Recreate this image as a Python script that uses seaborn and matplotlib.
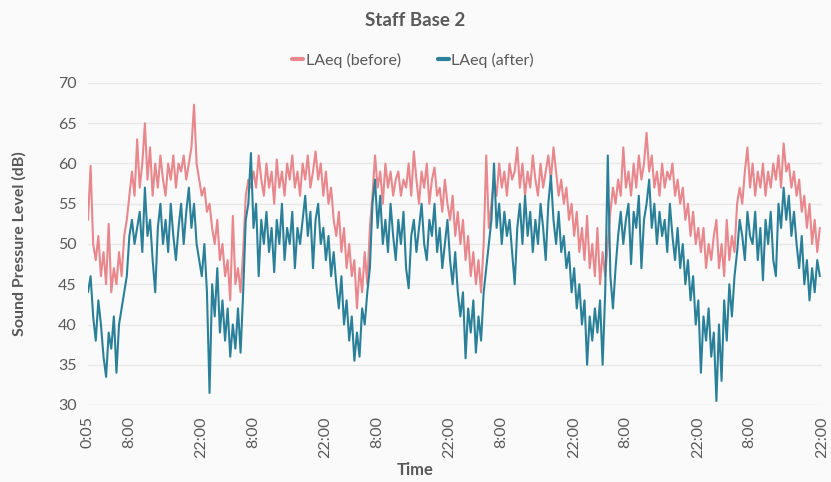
import matplotlib
matplotlib.use('Agg')
import matplotlib.pyplot as plt
import seaborn as sns
import pandas as pd

# LAeq readings every 30 minutes, starting 0:05 on day 1 (dB)
before = [
    53, 59.7, 50, 48, 51, 46, 49, 45, 52.5, 44, 47, 45, 49, 46, 51, 53,
    56, 59, 56, 63, 57, 60, 65, 58, 62, 56, 60, 57, 61, 58, 56, 60,
    58, 61, 57, 60, 59, 61, 58, 60, 62, 67.3, 60, 58, 56, 57, 54, 55,
    52, 50, 53, 48, 50, 46, 48, 43, 53.5, 45, 47, 44, 49, 56, 58, 57,
    59, 57, 61, 58, 56, 60, 57, 59, 55, 60.5, 57, 59, 56, 60, 58, 61,
    57, 59, 56, 60, 58, 61, 57, 59, 61.5, 58, 60, 56, 59, 55, 57, 53,
    51, 54, 49, 52, 47, 50, 46, 48, 42, 47, 44, 49, 45, 52, 56, 61,
    57, 59, 55, 60, 57, 59, 56, 58, 59, 56, 58, 57, 60, 56, 61.5, 58,
    55, 59, 57, 60, 55, 58, 59.5, 56, 57, 54, 58, 55, 53, 56, 51, 54,
    50, 53, 48, 51, 46, 49, 45, 48, 44, 50, 61, 52, 55, 58, 56, 60,
    57, 59, 56, 60, 58, 59, 62, 57, 60, 56, 59, 57, 61, 58, 56, 60,
    57, 59, 61, 58, 62, 59, 56, 58, 55, 57, 53, 55, 51, 54, 49, 52,
    48, 53.5, 47, 50, 46, 52, 45, 49, 46, 50, 54, 57, 55, 58, 56, 62,
    57, 59, 56, 60, 57, 61, 58, 60, 63.8, 59, 61, 57, 59, 56, 60, 57,
    59, 58, 60, 56, 58, 55, 57, 53, 55, 51, 54, 50, 52, 49, 52, 47,
    50, 48, 51, 53, 47, 50, 46, 53, 48, 51, 49, 55, 57, 55, 59, 62,
    57, 60, 56, 59, 57, 60, 56, 59, 57, 60, 58, 61, 57, 62.5, 59, 60,
    57, 59, 56, 58, 54, 56, 52, 55, 50, 53, 49, 52,
]
after = [
    44, 46, 41, 38, 43, 40, 36, 33.5, 39, 37, 41, 34, 40, 42, 44, 46,
    51, 53, 50, 52, 54, 49, 57, 51, 53, 48, 44, 52, 55, 50, 53, 49,
    55, 51, 48, 52, 55, 50, 54, 57, 52, 55, 50, 48, 46, 50, 44, 31.5,
    45, 41, 47, 39, 43, 38, 42, 36, 40, 37, 42, 36.5, 44, 53, 55, 61.3,
    52, 55, 46, 53, 50, 54, 49, 52, 46.5, 53, 50, 55, 48, 52, 50, 54,
    47, 52, 50, 53, 56, 51, 54, 47, 53, 55, 50, 52, 48, 51, 46, 49,
    45, 42, 46, 40, 43, 38, 41, 35.5, 39, 36, 42, 40, 44, 47, 55, 58,
    52, 56, 50, 53, 49, 55, 51, 48, 53, 50, 54, 47, 44.5, 51, 53, 49,
    52, 55, 50, 48, 53, 51, 55, 49, 52, 47, 50, 53, 48, 45, 49, 44,
    41, 44, 35.8, 42, 39, 43, 36.5, 41, 38, 44, 47, 50, 53, 60, 52, 55,
    50, 54, 51, 53, 49, 45, 52, 55, 50, 56, 51, 54, 49, 53, 50, 55,
    52, 48, 55, 58.5, 53, 50, 54, 49, 51, 47, 49, 44, 47, 42, 45, 40,
    43, 35, 41, 38, 42, 39, 43, 35, 44, 61, 46, 42, 47, 51, 54, 50,
    53, 55, 47.5, 54, 52, 56, 47, 53, 55, 58, 52, 55, 50, 54, 51, 53,
    49, 55, 51, 48, 52, 47, 50, 45, 48, 43, 46, 40, 43, 34, 41, 38,
    42, 36, 39, 30.5, 40, 33, 43, 38, 45, 41, 46, 49, 53, 51, 48, 54,
    51, 50, 54, 48, 52, 45.5, 53, 50, 54, 48, 46, 55, 52, 57, 53, 56,
    51, 54, 50, 47, 51, 45, 48, 43, 47, 44, 48, 46,
]
start_hour = 5 / 60
step_hours = 0.5
hours = [start_hour + step_hours * i for i in range(len(before))]

series_names = ['LAeq (before)', 'LAeq (after)']
tick_hours = [5 / 60, 8, 22, 32, 46, 56, 70, 80, 94, 104, 118, 128, 142]
tick_labels = ['0:05', '8:00', '22:00', '8:00', '22:00', '8:00', '22:00',
               '8:00', '22:00', '8:00', '22:00', '8:00', '22:00']
y_ticks = [30, 35, 40, 45, 50, 55, 60, 65, 70]

df = pd.DataFrame({
    'Time': hours + hours,
    'dB': before + after,
    'Series': [series_names[0]] * len(before) + [series_names[1]] * len(after),
})

sns.set_theme(style='whitegrid')
plt.rcParams['font.family'] = ['Lato', 'DejaVu Sans']

bg = '#FAFAFA'
txt = '#595959'
colors = ['#E8878C', '#2B8099']

fig = plt.figure(figsize=(8.31, 4.82), dpi=100, facecolor=bg)
ax = fig.add_axes([88 / 831, 1 - 405 / 482, (822 - 88) / 831, (405 - 83) / 482])
ax.set_facecolor(bg)

sns.lineplot(data=df, x='Time', y='dB', hue='Series', hue_order=series_names,
             palette=colors, estimator=None, linewidth=1.5, ax=ax)

ax.set_xlim(5 / 60, 142)
ax.set_ylim(30, 70)
ax.set_yticks(y_ticks)
ax.set_xticks(tick_hours)
ax.set_xticklabels(tick_labels, rotation=90)
ax.tick_params(axis='both', colors=txt, labelsize=11.5, length=0, pad=8)
ax.grid(axis='x', visible=False)
ax.grid(axis='y', color='#E8E8E8', linewidth=1)
for s in ax.spines.values():
    s.set_visible(False)
ax.set_xlabel('')
ax.set_ylabel('')

handles, labels = ax.get_legend_handles_labels()
ax.get_legend().remove()
leg = fig.legend(handles, labels, loc='center', bbox_to_anchor=(0.497, 1 - 60 / 482),
                 ncol=2, frameon=False, handlelength=0.7, handletextpad=0.15,
                 columnspacing=2.3, fontsize=11.5)
for line in leg.get_lines():
    line.set_linewidth(3)
for t in leg.get_texts():
    t.set_color(txt)

fig.text(0.5, 1 - 21 / 482, 'Staff Base 2', ha='center', va='center',
         fontsize=13.5, fontweight='bold', color=txt)
fig.text(19 / 831, 1 - 244 / 482, 'Sound Pressure Level (dB)', ha='center', va='center',
         rotation=90, fontsize=11.5, fontweight='bold', color=txt)
fig.text(0.5, 1 - 470 / 482, 'Time', ha='center', va='center',
         fontsize=12, fontweight='bold', color=txt)

fig.savefig('out.png', dpi=100, facecolor=bg)
